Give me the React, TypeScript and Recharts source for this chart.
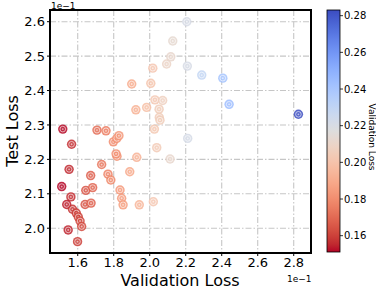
import React from 'react';
import { ScatterChart, Scatter, XAxis, YAxis, CartesianGrid, ReferenceArea } from 'recharts';

// validation loss (x) and test loss (y) per run
const valLoss = [
  0.1517, 0.1566, 0.1552, 0.1511, 0.1562, 0.1539, 0.1571, 0.1592, 0.1603, 0.1613,
  0.1622, 0.1547, 0.1599, 0.1645, 0.1683, 0.1641, 0.1674, 0.1672, 0.1733, 0.1707,
  0.1757, 0.1768, 0.1784, 0.1798, 0.1817, 0.1829, 0.1818, 0.1813, 0.1835, 0.1844,
  0.1852, 0.1889, 0.1928, 0.1942, 0.2020, 0.2026, 0.2039, 0.2113, 0.2211, 0.2053,
  0.2057, 0.2052, 0.1983, 0.1923, 0.2029, 0.2072, 0.1900, 0.2006, 0.2017, 0.2094,
  0.2117, 0.2128, 0.2206, 0.2209, 0.2289, 0.2406, 0.2441, 0.2826,
];
const testLoss = [
  0.2288, 0.2244, 0.2171, 0.2121, 0.2091, 0.2069, 0.2055, 0.2044, 0.2033, 0.2021,
  0.2005, 0.1995, 0.1961, 0.2110, 0.2118, 0.2069, 0.2073, 0.2153, 0.2185, 0.2285,
  0.2283, 0.2157, 0.2140, 0.2251, 0.2261, 0.2269, 0.2209, 0.2216, 0.2111, 0.2087,
  0.2068, 0.2164, 0.2206, 0.2068, 0.2077, 0.2288, 0.2234, 0.2201, 0.2261, 0.2322,
  0.2314, 0.2346, 0.2351, 0.2344, 0.2373, 0.2371, 0.2419, 0.2421, 0.2465, 0.2477,
  0.2498, 0.2544, 0.2600, 0.2471, 0.2445, 0.2436, 0.2360, 0.2331,
];

const xTicks = [0.16, 0.18, 0.2, 0.22, 0.24, 0.26, 0.28];
const yTicks = [0.2, 0.21, 0.22, 0.23, 0.24, 0.25, 0.26];
const cbTicks = [0.16, 0.18, 0.2, 0.22, 0.24, 0.26, 0.28];
const cbMin = 0.1511;
const cbMax = 0.2831;

// coolwarm (blue -> grey -> red), sampled
const coolwarm = [
  [59, 76, 192], [68, 90, 204], [77, 104, 215], [87, 117, 225], [98, 130, 234],
  [108, 142, 241], [119, 154, 247], [130, 165, 251], [141, 176, 254], [152, 185, 255],
  [163, 194, 255], [174, 201, 253], [184, 208, 249], [194, 213, 244], [204, 217, 238],
  [213, 219, 230], [221, 221, 221], [229, 216, 209], [236, 211, 197], [241, 204, 184],
  [245, 196, 173], [247, 187, 160], [247, 177, 148], [247, 166, 135], [244, 154, 123],
  [241, 141, 111], [236, 127, 99], [229, 112, 88], [222, 96, 77], [213, 80, 66],
  [203, 62, 56], [192, 40, 47], [180, 4, 38],
];

function cmap(t: number) {
  // reversed: low values red, high values blue
  const u = Math.min(1, Math.max(0, 1 - t)) * (coolwarm.length - 1);
  const i = Math.min(coolwarm.length - 2, Math.floor(u));
  const f = u - i;
  const a = coolwarm[i], b = coolwarm[i + 1];
  const c = a.map((v, k) => Math.round(v + (b[k] - v) * f));
  return `rgb(${c[0]},${c[1]},${c[2]})`;
}
const colorOf = (v: number) => cmap((v - cbMin) / (cbMax - cbMin));

const points = valLoss.map((v, i) => ({ x: v, y: testLoss[i] }));

const X0 = 0.1446, X1 = 0.2896;
const Y0 = 0.1928, Y1 = 0.2634;
const font = 'DejaVu Sans, sans-serif';

const Marker = (props: any) => {
  const { cx, cy, payload } = props;
  const c = colorOf(payload.x);
  return (
    <g>
      <circle cx={cx} cy={cy} r={4.7} fill={c} fillOpacity={0.85} />
      <circle cx={cx} cy={cy} r={2.8} fill="none" stroke="#fff" strokeOpacity={0.75} strokeWidth={0.8} />
      <circle cx={cx} cy={cy} r={0.9} fill="#fff" fillOpacity={0.6} />
    </g>
  );
};

function ColorBar() {
  const top = 10, bottom = 252, left = 327, w = 13;
  const pos = (v: number) => bottom - ((v - cbMin) / (cbMax - cbMin)) * (bottom - top);
  const stops = coolwarm.map((_, i) => i / (coolwarm.length - 1));
  return (
    <svg width={376} height={290} style={{ position: 'absolute', left: 0, top: 0, pointerEvents: 'none' }}>
      <defs>
        <linearGradient id="cb" x1="0" y1="1" x2="0" y2="0">
          {stops.map((t) => (
            <stop key={t} offset={`${t * 100}%`} stopColor={cmap(t)} />
          ))}
        </linearGradient>
      </defs>
      <rect x={left} y={top} width={w} height={bottom - top} fill="url(#cb)" stroke="#000" strokeWidth={0.8} />
      {cbTicks.map((v) => (
        <g key={v}>
          <line x1={left + w} x2={left + w + 3} y1={pos(v)} y2={pos(v)} stroke="#000" strokeWidth={0.8} />
          <text x={left + w + 4} y={pos(v) + 3.5} fontSize={10} fontFamily={font} fill="#000">{v.toFixed(2)}</text>
        </g>
      ))}
      <text
        x={371}
        y={137}
        fontSize={9}
        fontFamily={font}
        textAnchor="middle"
        transform="rotate(90 371 137)"
        dominantBaseline="middle"
      >
        Validation Loss
      </text>
      <text x={51} y={9} fontSize={9} fontFamily={font}>1e−1</text>
      <text x={287} y={282} fontSize={9} fontFamily={font}>1e−1</text>
      <text x={180} y={286} fontSize={16} fontFamily={font} textAnchor="middle">Validation Loss</text>
      <text x={18} y={131} fontSize={16} fontFamily={font} textAnchor="middle" transform="rotate(-90 18 131)">Test Loss</text>
    </svg>
  );
}

export default function App() {
  return (
    <div style={{ position: 'absolute', left: 0, top: 0, width: 376, height: 290, background: '#fff' }}>
      <ScatterChart width={376} height={290} margin={{ top: 10, right: 65, bottom: 17, left: 10 }}>
        <CartesianGrid stroke="#c6c6c6" strokeWidth={1.1} strokeDasharray="6 2 1.5 2" />
        <XAxis
          type="number"
          dataKey="x"
          domain={[X0, X1]}
          ticks={xTicks}
          allowDataOverflow
          height={20}
          tickFormatter={(v: number) => (v * 10).toFixed(1)}
          tick={{ fill: '#000', fontSize: 13, fontFamily: font }}
          tickLine={{ stroke: '#000' }}
          tickSize={3}
          axisLine={false}
        />
        <YAxis
          type="number"
          dataKey="y"
          domain={[Y0, Y1]}
          ticks={yTicks}
          allowDataOverflow
          width={40}
          tickFormatter={(v: number) => (v * 10).toFixed(1)}
          tick={{ fill: '#000', fontSize: 13, fontFamily: font }}
          tickLine={{ stroke: '#000' }}
          tickSize={3}
          axisLine={false}
        />
        <Scatter data={points} shape={Marker} isAnimationActive={false} />
        <ReferenceArea x1={X0} x2={X1} y1={Y0} y2={Y1} fill="none" stroke="#000" strokeWidth={2} ifOverflow="visible" />
      </ScatterChart>
      <ColorBar />
    </div>
  );
}
